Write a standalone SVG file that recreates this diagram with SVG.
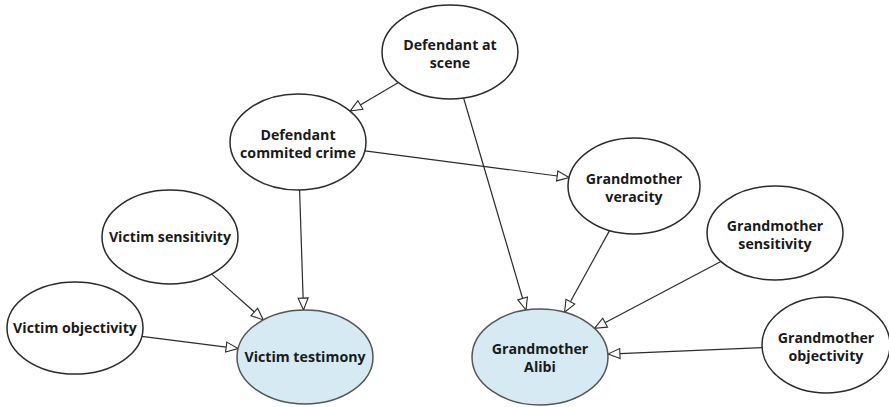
<svg xmlns="http://www.w3.org/2000/svg" width="889" height="407" viewBox="0 0 889 407">
<style>
.n{fill:#ffffff;stroke:#2b2b2b;stroke-width:1.5}
.o{fill:#d5eaf2;stroke:#555;stroke-width:1.5}
.t{font-family:"Open Sans","DejaVu Sans",sans-serif;font-weight:bold;font-size:14.2px;fill:#1a1a1a;text-anchor:middle}
.e{stroke:#2b2b2b;stroke-width:1.2;fill:none;marker-end:url(#arr)}
</style>
<defs>
<marker id="arr" markerUnits="userSpaceOnUse" markerWidth="14" markerHeight="12" refX="12" refY="5" orient="auto" viewBox="-1 -1 14 12">
<path d="M0,0 L12,5 L0,10 z" fill="#ffffff" stroke="#2b2b2b" stroke-width="1.1"/>
</marker>
</defs>
<rect width="889" height="407" fill="#ffffff"/>
<g id="connectors">
<line class="e" x1="398.4" y1="82.6" x2="350.1" y2="111.1"/>
<line class="e" x1="463.6" y1="98" x2="526" y2="310"/>
<line class="e" x1="364.9" y1="150.8" x2="569.1" y2="177.5"/>
<line class="e" x1="299.6" y1="190" x2="303.5" y2="310"/>
<line class="e" x1="211.7" y1="274.1" x2="263.3" y2="319.9"/>
<line class="e" x1="141.8" y1="336.4" x2="238.1" y2="348.6"/>
<line class="e" x1="609.5" y1="230.6" x2="564.6" y2="312.2"/>
<line class="e" x1="720.9" y1="261.5" x2="594.5" y2="328.3"/>
<line class="e" x1="762.1" y1="347.7" x2="607.9" y2="354.1"/>
</g>
<g id="defendant-at-scene">
<ellipse class="n" cx="450" cy="52" rx="68" ry="47"/>
<text class="t" x="450" y="50">Defendant at</text>
<text class="t" x="450" y="68">scene</text>
</g>
<g id="defendant-commited-crime">
<ellipse class="n" cx="298" cy="142" rx="68" ry="48"/>
<text class="t" x="298" y="139.5">Defendant</text>
<text class="t" x="298" y="157.5">commited crime</text>
</g>
<g id="grandmother-veracity">
<ellipse class="n" cx="634" cy="186" rx="66" ry="48"/>
<text class="t" x="634" y="183.5">Grandmother</text>
<text class="t" x="634" y="201.5">veracity</text>
</g>
<g id="victim-sensitivity">
<ellipse class="n" cx="170" cy="237" rx="68" ry="47"/>
<text class="t" x="170" y="242">Victim sensitivity</text>
</g>
<g id="grandmother-sensitivity">
<ellipse class="n" cx="775" cy="233" rx="68" ry="47"/>
<text class="t" x="775" y="230.5">Grandmother</text>
<text class="t" x="775" y="248.5">sensitivity</text>
</g>
<g id="victim-objectivity">
<ellipse class="n" cx="75" cy="328" rx="68" ry="46"/>
<text class="t" x="75" y="333">Victim objectivity</text>
</g>
<g id="victim-testimony">
<ellipse class="o" cx="305" cy="357" rx="68" ry="47"/>
<text class="t" x="305" y="362">Victim testimony</text>
</g>
<g id="grandmother-alibi">
<ellipse class="o" cx="540" cy="357" rx="68" ry="48"/>
<text class="t" x="540" y="353.5">Grandmother</text>
<text class="t" x="540" y="371.5">Alibi</text>
</g>
<g id="grandmother-objectivity">
<ellipse class="n" cx="826" cy="345" rx="64" ry="48"/>
<text class="t" x="826" y="342.5">Grandmother</text>
<text class="t" x="826" y="360.5">objectivity</text>
</g>
</svg>
